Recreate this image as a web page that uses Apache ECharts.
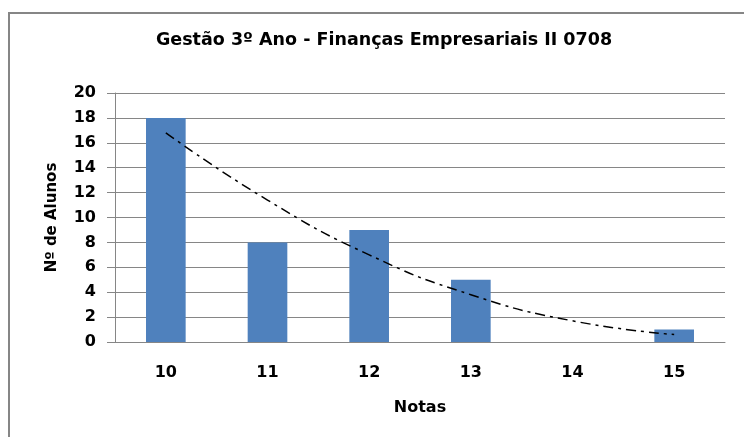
<!DOCTYPE html>
<html>
<head>
<meta charset="utf-8">
<script src="https://cdn.jsdelivr.net/npm/echarts@6/dist/echarts.min.js"></script>
<style>
  html, body { margin: 0; padding: 0; background: #fff; }
  #chart { width: 744px; height: 437px; }
</style>
</head>
<body>
<div id="chart"></div>
<script>
// dados
var notas = ['10', '11', '12', '13', '14', '15'];
var alunos = [18, 8, 9, 5, 0, 1];
// linha de tendência (polinomial)
var tendencia = [16.8, 11.4, 7.0, 3.8, 1.7, 0.6];
var yTicks = { min: 0, max: 20, step: 2 };

var fonte = '"DejaVu Sans", Verdana, sans-serif';
var chart = echarts.init(document.getElementById('chart'));

var option = {
  animation: false,
  title: {
    text: 'Gestão 3º Ano - Finanças Empresariais II 0708',
    left: 379,
    top: 26,
    textAlign: 'center',
    textStyle: { fontFamily: fonte, fontSize: 17.5, fontWeight: 'bold', color: '#000' }
  },
  graphic: [{
    type: 'rect',
    shape: { x: 9, y: 13, width: 800, height: 500 },
    style: { fill: 'none', stroke: '#868686', lineWidth: 2 },
    silent: true
  }],
  grid: { left: 115, right: 19, top: 93, bottom: 95 },
  xAxis: {
    type: 'category',
    data: notas,
    name: 'Notas',
    nameLocation: 'middle',
    nameGap: 58,
    nameTextStyle: { fontFamily: fonte, fontSize: 16, fontWeight: 'bold', color: '#000' },
    axisLine: { lineStyle: { color: '#868686' } },
    axisTick: { show: false },
    axisLabel: { margin: 23, fontFamily: fonte, fontSize: 16, fontWeight: 'bold', color: '#000' }
  },
  yAxis: {
    type: 'value',
    min: yTicks.min,
    max: yTicks.max,
    interval: yTicks.step,
    name: 'Nº de Alunos',
    nameLocation: 'middle',
    nameGap: 55,
    nameRotate: 90,
    nameTextStyle: { fontFamily: fonte, fontSize: 15, fontWeight: 'bold', color: '#000' },
    axisLine: { show: true, lineStyle: { color: '#868686' } },
    axisTick: { show: true, inside: false, length: 8, lineStyle: { color: '#868686' } },
    splitLine: { lineStyle: { color: '#868686' } },
    axisLabel: { margin: 19, fontFamily: fonte, fontSize: 16, fontWeight: 'bold', color: '#000' }
  },
  series: [
    {
      name: 'Alunos',
      type: 'bar',
      data: alunos,
      barWidth: '39%',
      itemStyle: { color: '#4f81bd' },
      z: 2
    },
    {
      name: 'Tendência',
      type: 'line',
      data: tendencia,
      smooth: true,
      symbol: 'none',
      lineStyle: { color: '#000', width: 1.5, type: [10, 5, 3, 5] },
      z: 3
    }
  ]
};

chart.setOption(option);
</script>
</body>
</html>
